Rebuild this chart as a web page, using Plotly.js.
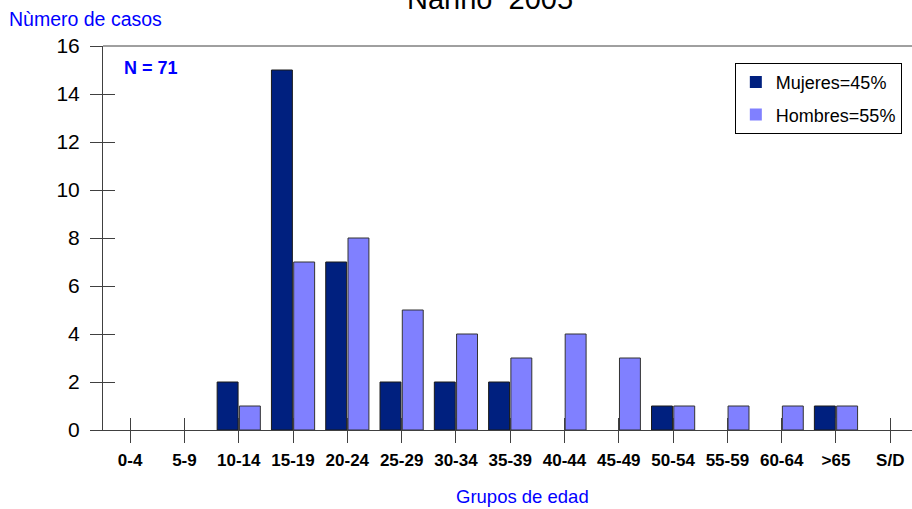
<!DOCTYPE html>
<html>
<head>
<meta charset="utf-8">
<script src="https://cdn.plot.ly/plotly-3.0.1.min.js"></script>
<style>
  html, body { margin: 0; padding: 0; background: #ffffff; }
  #chart { width: 912px; height: 509px; }
</style>
</head>
<body>
<div id="chart"></div>
<script>
// ---- data ----
const categories = ["0-4", "5-9", "10-14", "15-19", "20-24", "25-29", "30-34", "35-39",
                    "40-44", "45-49", "50-54", "55-59", "60-64", ">65", "S/D"];
const mujeres = [0, 0, 2, 15, 7, 2, 2, 2, 0, 0, 1, 0, 0, 1, 0];
const hombres = [0, 0, 1, 7, 8, 5, 4, 3, 4, 3, 1, 1, 1, 1, 0];
const seriesNames = ["Mujeres=45%", "Hombres=55%"];
const chartTitle = "Nariño\u00a0\u00a02005";
const yTitle = "Nùmero de casos";
const xTitle = "Grupos de edad";
const nLabel = "N = 71";

const FONT = "Arial, 'Liberation Sans', sans-serif";
const catIdx = categories.map((c, i) => i);
const xRange = [-0.5, categories.length - 1 + 0.4];
const yRange = [0, 16];
const edge = vals => vals.map(v => (v > 0 ? 1 : 0));

const traces = [
  {
    type: "bar", name: seriesNames[0], x: categories, y: mujeres,
    marker: { color: "#00207f", line: { color: "#1a1a1a", width: edge(mujeres) } },
    legendgroup: "m", hoverinfo: "x+y"
  },
  {
    type: "bar", name: seriesNames[1], x: categories, y: hombres,
    marker: { color: "#8080ff", line: { color: "#333333", width: edge(hombres) } },
    legendgroup: "h", hoverinfo: "x+y"
  },
  {
    type: "scatter", x: [], y: [], xaxis: "x2", yaxis: "y2",
    showlegend: false, hoverinfo: "skip"
  }
];

const layout = {
  width: 912, height: 509,
  margin: { l: 103, r: 0, t: 46, b: 79 },
  paper_bgcolor: "#ffffff", plot_bgcolor: "#ffffff",
  font: { family: FONT, color: "#000000" },
  barmode: "group", bargap: 0.18, bargroupgap: 0.06,
  showlegend: true,
  legend: {
    x: 0.781, y: 0.956, xanchor: "left", yanchor: "top",
    bgcolor: "#ffffff", bordercolor: "#000000", borderwidth: 1,
    font: { family: FONT, size: 18, color: "#000000" },
    traceorder: "grouped", tracegroupgap: 6, itemwidth: 30
  },
  xaxis: {
    type: "category", range: xRange,
    showline: true, linecolor: "#404040", linewidth: 1,
    ticks: "outside", ticklen: 12, tickcolor: "#404040", tickwidth: 1,
    tickfont: { family: FONT, size: 17, color: "#000000", weight: "bold" },
    ticklabelstandoff: 3,
    showgrid: false, zeroline: false, fixedrange: true
  },
  yaxis: {
    range: yRange, dtick: 2, tick0: 0,
    showline: true, linecolor: "#404040", linewidth: 1,
    ticks: "outside", ticklen: 12, tickcolor: "#404040", tickwidth: 1,
    tickfont: { family: FONT, size: 21, color: "#000000" },
    ticklabelstandoff: 6,
    showgrid: false, zeroline: false, fixedrange: true
  },
  xaxis2: {
    overlaying: "x", anchor: "y2", range: xRange,
    tickmode: "array", tickvals: catIdx,
    ticks: "inside", ticklen: 12, tickcolor: "#404040", tickwidth: 1,
    showticklabels: false, showgrid: false, zeroline: false, showline: false, fixedrange: true
  },
  yaxis2: {
    overlaying: "y", anchor: "x2", range: yRange, dtick: 2, tick0: 0,
    ticks: "inside", ticklen: 12, tickcolor: "#404040", tickwidth: 1,
    showticklabels: false, showgrid: false, zeroline: false, showline: false, fixedrange: true
  },
  shapes: [
    { type: "line", xref: "paper", yref: "paper", x0: 0, x1: 1, y0: 1, y1: 1,
      line: { color: "#404040", width: 1 } }
  ],
  annotations: [
    { text: chartTitle, xref: "paper", yref: "paper", x: 0.478, y: 1.122,
      xanchor: "center", yanchor: "middle", showarrow: false,
      font: { family: FONT, size: 29, color: "#000000" } },
    { text: yTitle, xref: "paper", yref: "paper", x: -0.119, y: 1.070,
      xanchor: "left", yanchor: "middle", showarrow: false,
      font: { family: FONT, size: 19.5, color: "#0000ff" } },
    { text: xTitle, xref: "paper", yref: "paper", x: 0.519, y: -0.174,
      xanchor: "center", yanchor: "middle", showarrow: false,
      font: { family: FONT, size: 18.5, color: "#0000ff" } },
    { text: "<b>" + nLabel + "</b>", xref: "paper", yref: "paper", x: 0.024, y: 0.943,
      xanchor: "left", yanchor: "middle", showarrow: false,
      font: { family: FONT, size: 18, color: "#0000ff" } }
  ]
};

Plotly.newPlot("chart", traces, layout, { displayModeBar: false, staticPlot: true });
</script>
</body>
</html>
